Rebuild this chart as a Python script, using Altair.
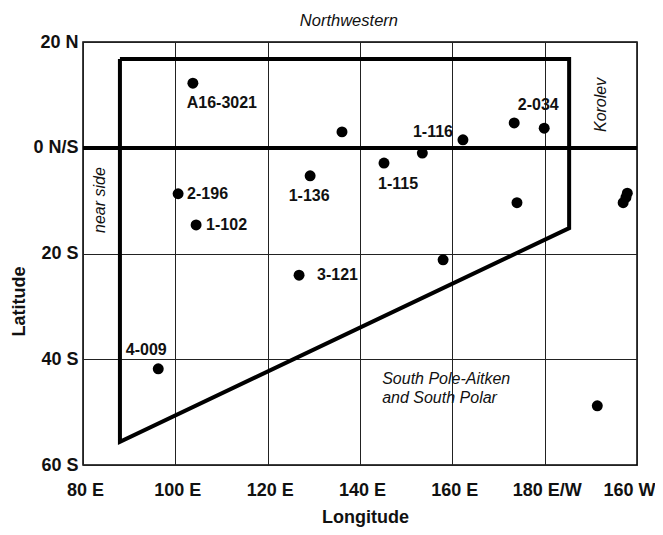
import altair as alt
import pandas as pd

# ---- data ----
point_lon = [103.8, 136.1, 100.6, 104.5, 129.2, 126.8, 145.2, 153.5, 162.3,
             173.4, 179.9, 174.0, 158.0, 197.9, 197.6, 197.0, 191.4, 96.3]
point_lat = [12.2, 3.0, -8.7, -14.6, -5.3, -24.1, -2.9, -1.0, 1.5,
             4.7, 3.7, -10.4, -21.2, -8.6, -9.4, -10.4, -48.8, -41.8]
point_name = ["A16-3021", "", "2-196", "1-102", "1-136", "3-121", "1-115", "", "1-116",
              "", "2-034", "", "", "", "", "", "", "4-009"]

region_lon = [88.0, 185.3, 185.3, 88.0, 88.0]
region_lat = [16.8, 16.8, -15.2, -55.6, 16.8]

x_ticks = [80, 100, 120, 140, 160, 180, 200]
x_tick_labels = ["80 E", "100 E", "120 E", "140 E", "160 E", "180 E/W", "160 W"]
y_ticks = [20, 0, -20, -40, -60]
y_tick_labels = ["20 N", "0 N/S", "20 S", "40 S", "60 S"]

note_text = ["Northwestern", "South Pole-Aitken", "and South Polar"]
note_lon = [137.6, 144.8, 144.8]
note_lat = [23.9, -43.7, -47.3]
side_text = ["near side", "Korolev"]
side_lon = [83.7, 192.2]
side_lat = [-9.9, 8.1]

FONT = "Liberation Sans"

points = pd.DataFrame({"lon": point_lon, "lat": point_lat, "name": point_name})
region = pd.DataFrame({"lon": region_lon, "lat": region_lat, "order": list(range(len(region_lon)))})
notes = pd.DataFrame({"lon": note_lon, "lat": note_lat, "text": note_text})
sides = pd.DataFrame({"lon": side_lon, "lat": side_lat, "text": side_text})


def expr_for(values, labels):
    parts = " : ".join(f"datum.value == {v} ? '{l}'" for v, l in zip(values, labels))
    return parts + " : ''"


xscale = alt.Scale(domain=[80, 200], nice=False, zero=False)
yscale = alt.Scale(domain=[-60, 20], nice=False, zero=False)

xenc = alt.X("lon:Q", scale=xscale, axis=alt.Axis(
    values=x_ticks, labelExpr=expr_for(x_ticks, x_tick_labels), title="Longitude",
    grid=True, gridColor="#222", gridWidth=1, ticks=False, domain=False,
    labelFont=FONT, labelFontWeight="bold", labelFontSize=18, labelColor="#111",
    labelPadding=16, labelFlush=False,
    labelOffset={"condition": {"test": "datum.value == 200", "value": -8},
                 "value": 2},
    titleFont=FONT, titleFontWeight="bold", titleFontSize=18, titleColor="#111",
    titleX=282, titleY=52, titleBaseline="middle"))
yenc = alt.Y("lat:Q", scale=yscale, axis=alt.Axis(
    values=y_ticks, labelExpr=expr_for(y_ticks, y_tick_labels), title="Latitude",
    grid=True, gridColor="#222", gridWidth=1, ticks=False, domain=False,
    labelFont=FONT, labelFontWeight="bold", labelFontSize=18, labelColor="#111",
    labelPadding=5, labelFlush=False,
    titleFont=FONT, titleFontWeight="bold", titleFontSize=18, titleColor="#111",
    titleX=-64, titleY=259, titleBaseline="middle"))

base = alt.Chart(points)

dots = base.mark_circle(size=120, color="black", opacity=1).encode(x=xenc, y=yenc)

equator = alt.Chart(points).mark_rule(color="black", strokeWidth=3).encode(y=alt.datum(0))

outline = alt.Chart(region).mark_line(color="black", strokeWidth=4, strokeJoin="miter").encode(
    x="lon:Q", y="lat:Q", order="order:Q")


def label_layer(name, dx, dy, align):
    return base.transform_filter(alt.datum.name == name).mark_text(
        font=FONT, fontWeight="bold", fontSize=16, color="#111",
        align=align, baseline="middle", dx=dx, dy=dy).encode(
        x="lon:Q", y="lat:Q", text="name:N")


labels = [
    label_layer("A16-3021", 29, 20, "center"),
    label_layer("2-196", 9, 0, "left"),
    label_layer("1-102", 10, 0, "left"),
    label_layer("1-136", -1, 20, "center"),
    label_layer("3-121", 18, 0, "left"),
    label_layer("1-115", 14, 21, "center"),
    label_layer("1-116", -10, -8, "right"),
    label_layer("2-034", -6, -23, "center"),
    label_layer("4-009", -12, -19, "center"),
]

note_top = alt.Chart(notes).transform_filter(alt.datum.text == "Northwestern").mark_text(
    font=FONT, fontStyle="italic", fontSize=16.5, color="#111", align="center",
    baseline="middle").encode(x="lon:Q", y="lat:Q", text="text:N")
note_spa = alt.Chart(notes).transform_filter(alt.datum.text != "Northwestern").mark_text(
    font=FONT, fontStyle="italic", fontSize=16, color="#111", align="left",
    baseline="middle").encode(x="lon:Q", y="lat:Q", text="text:N")
side_notes = alt.Chart(sides).mark_text(
    font=FONT, fontStyle="italic", fontSize=16, color="#111", align="center",
    baseline="middle", angle=270).encode(x="lon:Q", y="lat:Q", text="text:N")

chart = alt.layer(dots, equator, outline, *labels, note_top, note_spa, side_notes).properties(
    width=554, height=423,
    autosize=alt.AutoSizeParams(type="none"),
    padding={"left": 75, "top": 34, "right": 18, "bottom": 62},
    background="white",
).configure_view(stroke="black", strokeWidth=1.5)

chart.save("out.html", embed_options={"renderer": "svg", "actions": False})
